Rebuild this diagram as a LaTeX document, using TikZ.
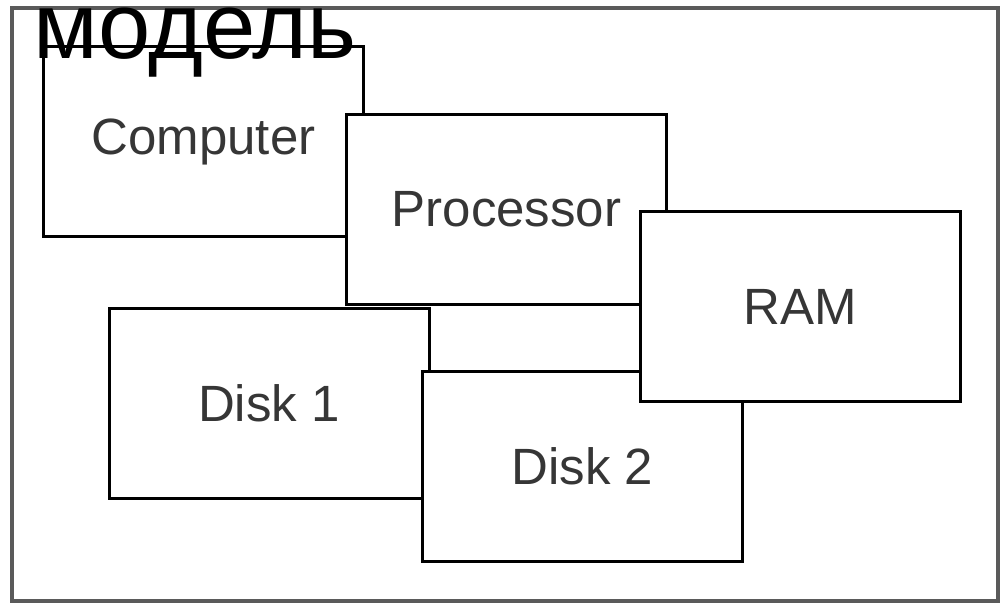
\documentclass[tikz,border=0pt]{standalone}
\usepackage{fontspec}
\setmainfont{Liberation Sans}
\definecolor{cframe}{HTML}{5A5A5A}
\definecolor{ctext}{HTML}{363636}
\tikzset{
  every picture/.style={line width=3pt},
  box/.style={draw=black, fill=white, minimum width=320pt, minimum height=190pt, inner sep=0pt, font=\fontsize{51}{51}\selectfont, text=ctext},
  panel/.style={draw=cframe, line width=4pt, minimum width=986pt, minimum height=593pt, inner sep=0pt},
  title/.style={font=\fontsize{94}{94}\selectfont, anchor=base west, inner sep=0pt},
}

\begin{document}
\begin{tikzpicture}[x=1pt, y=-1pt]
  \useasboundingbox (0,0) rectangle (1004,605);
  \node[panel] (model) at (505,304.5) {};
  % parts, back to front
  \node[box] (computer) at (203.5,141.5) {Computer};
  \node[box] (processor) at (506.5,209) {Processor};
  \node[box] (disk1) at (269,403.5) {Disk 1};
  \node[box] (disk2) at (582.5,466.5) {Disk 2};
  \node[box] (ram) at (800,306.5) {RAM};
  \node[title] (name) at (32,58) {модель};
\end{tikzpicture}
\end{document}
